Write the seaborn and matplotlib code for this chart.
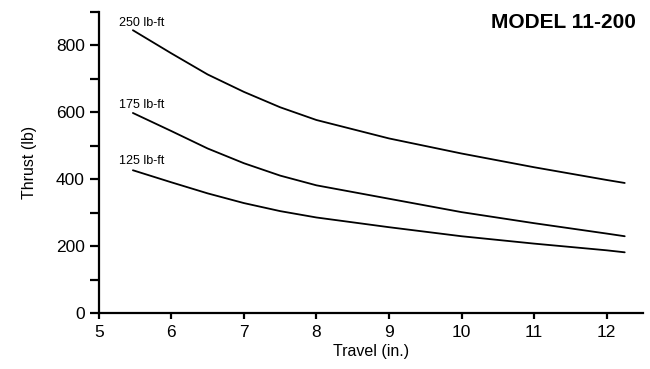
import pandas as pd
import matplotlib.pyplot as plt
import seaborn as sns
from matplotlib.ticker import MultipleLocator

# %% Data
travel = [5.47, 6.0, 6.5, 7.0, 7.5, 8.0, 9.0, 10.0, 11.0, 12.0, 12.25]
thrust_250 = [845, 776, 713, 661, 615, 577, 522, 477, 436, 398, 389]
thrust_175 = [598, 544, 492, 448, 411, 382, 342, 302, 269, 238, 230]
thrust_125 = [427, 391, 358, 329, 305, 286, 257, 230, 208, 188, 182]

torque_labels = ["250 lb-ft", "175 lb-ft", "125 lb-ft"]
label_pos = [(5.28, 868), (5.28, 622), (5.28, 455)]

df = pd.concat([
    pd.DataFrame({"travel": travel, "thrust": vals, "torque": name})
    for name, vals in zip(torque_labels, [thrust_250, thrust_175, thrust_125])
])

# %% Plot
sns.set_style("white")
plt.rcParams['font.family'] = ['Liberation Sans', 'DejaVu Sans']
plt.rcParams['text.color'] = 'black'
plt.rcParams['axes.labelcolor'] = 'black'
plt.rcParams['xtick.color'] = 'black'
plt.rcParams['ytick.color'] = 'black'

fig = plt.figure(figsize=(6.5, 3.69), dpi=100)
ax = fig.add_axes([0.152, 0.151, 0.837, 0.817])

sns.lineplot(data=df, x="travel", y="thrust", hue="torque",
             palette=["black"] * 3, linewidth=1.3, legend=False, ax=ax)

for name, (x, y) in zip(torque_labels, label_pos):
    ax.text(x, y, name, fontsize=9, ha='left', va='center')

ax.set_xlim(5, 12.5)
ax.set_ylim(0, 900)
ax.xaxis.set_major_locator(MultipleLocator(1))
ax.yaxis.set_major_locator(MultipleLocator(200))
ax.yaxis.set_minor_locator(MultipleLocator(100))

sns.despine(ax=ax, top=True, right=True)
for side in ['left', 'bottom']:
    ax.spines[side].set_linewidth(1.6)
    ax.spines[side].set_color('black')

ax.tick_params(axis='both', which='both', direction='out', color='black',
               width=1.6, labelsize=12.5, labelcolor='black')
ax.tick_params(axis='y', which='both', length=6.5, left=True)
ax.tick_params(axis='x', which='major', length=4.5, bottom=True, pad=4)

ax.set_xlabel("Travel (in.)", fontsize=11.5, labelpad=3)
ax.set_ylabel("Thrust (lb)", fontsize=11.5, labelpad=14)

fig.text(0.978, 0.94, "MODEL 11-200", fontsize=15, fontweight='bold',
         ha='right', va='center')

plt.savefig("out.png", dpi=100)
